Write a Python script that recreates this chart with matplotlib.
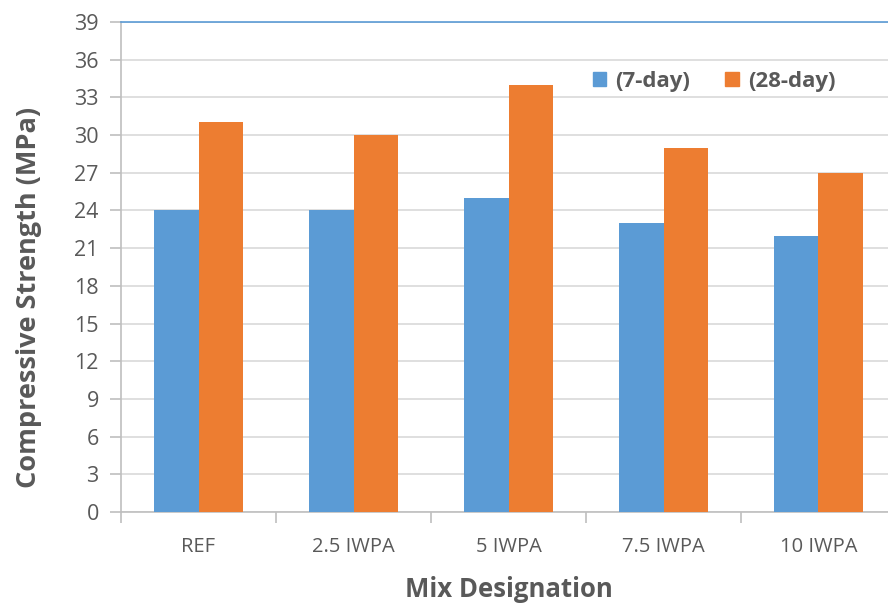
import numpy as np
import matplotlib
matplotlib.use('Agg')
import matplotlib.pyplot as plt
from matplotlib.patches import Patch

# mix designations and strengths (MPa)
mixes = ['REF', '2.5 IWPA', '5 IWPA', '7.5 IWPA', '10 IWPA']
day7 = [24, 24, 25, 23, 22]
day28 = [31, 30, 34, 29, 27]
yTicks = list(range(0, 40, 3))

blue = '#5B9BD5'
orange = '#ED7D31'
textGray = '#595959'
gridGray = '#D9D9D9'

plt.rcParams['font.family'] = ['Open Sans', 'DejaVu Sans']

fig = plt.figure(figsize=(8.88, 6.05), dpi=100)
ax = fig.add_axes([0.1363, 0.1537, 0.8727, 0.81])

x = np.arange(len(mixes))
barWidth = 0.287
ax.bar(x - barWidth / 2, day7, width=barWidth, color=blue, zorder=3)
ax.bar(x + barWidth / 2, day28, width=barWidth, color=orange, zorder=3)

ax.set_xlim(-0.5, len(mixes) - 0.5)
ax.set_ylim(0, 39)
ax.set_yticks(yTicks)
ax.grid(axis='y', color=gridGray, linewidth=1.2, zorder=0)

# category labels centred, tick marks on the boundaries
ax.set_xticks(x)
ax.set_xticklabels(mixes, fontsize=14.5, color=textGray)
ax.set_xticks(np.arange(len(mixes) + 1) - 0.5, minor=True)
ax.tick_params(axis='x', which='major', length=0, pad=18)
ax.tick_params(axis='x', which='minor', length=8, color='#BFBFBF', width=1.2)
ax.tick_params(axis='y', length=8, color='#BFBFBF', width=1.2,
               labelsize=15.5, labelcolor=textGray, pad=8)

for side in ['left', 'bottom']:
    ax.spines[side].set_color('#BFBFBF')
    ax.spines[side].set_linewidth(1.2)
ax.spines['right'].set_visible(False)
ax.spines['top'].set_color(blue)
ax.spines['top'].set_linewidth(1.2)

ax.set_xlabel('Mix Designation', fontsize=18.5, fontweight='bold',
              color=textGray, labelpad=14)
ax.set_ylabel('Compressive Strength (MPa)', fontsize=19.5, fontweight='bold',
              color=textGray)
ax.yaxis.set_label_coords(-0.102, 0.437)

handles = [Patch(color=blue, label='(7-day)'), Patch(color=orange, label='(28-day)')]
leg = ax.legend(handles=handles, loc='upper left', bbox_to_anchor=(0.583, 0.941),
                ncol=2, frameon=False, handlelength=0.6, handleheight=0.6,
                handletextpad=0.4, columnspacing=1.6,
                prop={'size': 16, 'weight': 'bold'})
for t in leg.get_texts():
    t.set_color(textGray)

fig.savefig('out.png', dpi=100)
